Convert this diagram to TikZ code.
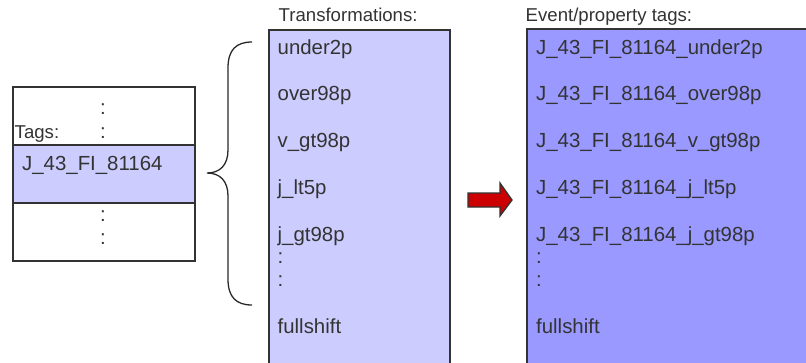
\documentclass[tikz,border=0pt]{standalone}
\usepackage{fontspec}
\setmainfont{Liberation Sans}
\definecolor{lightblue}{HTML}{CCCCFF}
\definecolor{midblue}{HTML}{9999FF}
\definecolor{edge}{HTML}{333333}
\definecolor{txt}{HTML}{333333}
\definecolor{arrowred}{HTML}{CC0000}
\tikzset{
  itemtext/.style={anchor=base west, inner sep=0pt, text=txt, font=\fontsize{20.4}{24}\selectfont},
  titletext/.style={anchor=base west, inner sep=0pt, text=txt, font=\fontsize{18.6}{22}\selectfont},
  colontext/.style={anchor=base, inner sep=0pt, text=txt, font=\fontsize{20.4}{24}\selectfont},
  boxpart/.style={draw=edge, line width=1.3pt, anchor=north west, inner sep=0pt, outer sep=0pt},
}
\begin{document}
\begin{tikzpicture}[x=1pt,y=-1pt]
\useasboundingbox (0,0) rectangle (806,362);
\clip (0,0) rectangle (806,362);
\fill[white] (0,0) rectangle (806,362);

% left box
\node[boxpart, fill=white, minimum width=182pt, minimum height=58pt] (top) at (13,87) {};
\node[boxpart, fill=lightblue, minimum width=182pt, minimum height=58pt] (mid) at (13,145) {};
\node[boxpart, fill=white, minimum width=182pt, minimum height=58pt] (bot) at (13,203) {};
\node[titletext] (tags) at (14.5,138) {Tags:};
\node[colontext] (c1) at (103,114) {:};
\node[colontext] (c2) at (103,138) {:};
\node[itemtext] (jtag) at (22,170) {J\_43\_FI\_81164};
\node[colontext] (c3) at (103,221) {:};
\node[colontext] (c4) at (103,244) {:};

% brace
\draw[edge!80!black, line width=1.3pt]
  (252,42) .. controls (236,42) and (228,50) .. (228,68) -- (228,150)
  .. controls (228,165) and (220,173) .. (207,173)
  .. controls (220,173) and (228,181) .. (228,196) -- (228,279)
  .. controls (228,297) and (236,305) .. (252,305);

% transformations box
\node[boxpart, fill=lightblue, minimum width=181pt, minimum height=350pt] (trans) at (269,30) {};
\node[titletext] (ttitle) at (278.5,21) {Transformations:};
\node[itemtext] (t1) at (277.5,54) {under2p};
\node[itemtext] (t2) at (277.5,100) {over98p};
\node[itemtext] (t3) at (277.5,147) {v\_gt98p};
\node[itemtext] (t4) at (277.5,194) {j\_lt5p};
\node[itemtext] (t5) at (277.5,241) {j\_gt98p};
\node[itemtext] (t6) at (277.5,263) {:};
\node[itemtext] (t7) at (277.5,286) {:};
\node[itemtext] (t8) at (277.5,333) {fullshift};

% arrow
\draw[draw=edge, fill=arrowred, line width=1.3pt, line join=miter]
  (468,193) -- (500,193) -- (500,183) -- (512,200) -- (500,216) -- (500,207) -- (468,207) -- cycle;

% event/property box
\node[boxpart, fill=midblue, minimum width=300pt, minimum height=350pt] (events) at (527,29) {};
\node[titletext] (etitle) at (525.5,21) {Event/property tags:};
\node[itemtext] (e1) at (536,54) {J\_43\_FI\_81164\_under2p};
\node[itemtext] (e2) at (536,100) {J\_43\_FI\_81164\_over98p};
\node[itemtext] (e3) at (536,147) {J\_43\_FI\_81164\_v\_gt98p};
\node[itemtext] (e4) at (536,194) {J\_43\_FI\_81164\_j\_lt5p};
\node[itemtext] (e5) at (536,241) {J\_43\_FI\_81164\_j\_gt98p};
\node[itemtext] (e6) at (536,263) {:};
\node[itemtext] (e7) at (536,286) {:};
\node[itemtext] (e8) at (536,333) {fullshift};
\end{tikzpicture}
\end{document}
